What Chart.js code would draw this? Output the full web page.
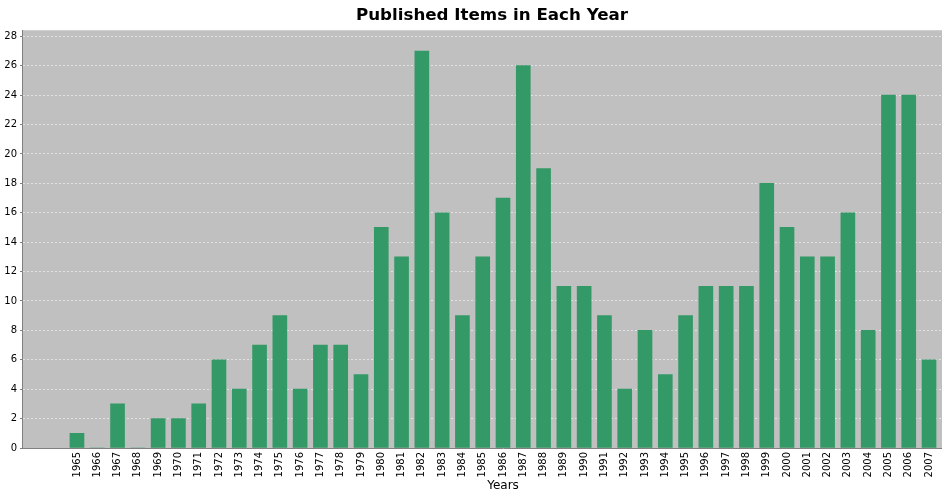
<!DOCTYPE html>
<html>
<head>
<meta charset="utf-8">
<script src="https://cdn.jsdelivr.net/npm/chart.js@4/dist/chart.umd.min.js"></script>
<style>
  html, body { margin: 0; padding: 0; background: #ffffff; overflow: hidden; width: 942px; height: 496px; }
  #wrap { width: 942px; height: 496px; overflow: hidden; }
  canvas { display: block; }
</style>
</head>
<body>
<div id="wrap"><canvas id="c" width="986" height="496"></canvas></div>
<script>
const years = [1965,1966,1967,1968,1969,1970,1971,1972,1973,1974,1975,1976,1977,1978,1979,1980,1981,1982,1983,1984,1985,1986,1987,1988,1989,1990,1991,1992,1993,1994,1995,1996,1997,1998,1999,2000,2001,2002,2003,2004,2005,2006,2007];
const items = [1,0,3,0,2,2,3,6,4,7,9,4,7,7,5,15,13,27,16,9,13,17,26,19,11,11,9,4,8,5,9,11,11,11,18,15,13,13,16,8,24,24,6];
const yTicks = [0,2,4,6,8,10,12,14,16,18,20,22,24,26,28];
const chartTitle = 'Published Items in Each Year';
const xTitle = 'Years';

const plotBg = {
  id: 'plotBg',
  beforeDraw(chart) {
    const a = chart.chartArea, ctx = chart.ctx;
    ctx.save();
    ctx.fillStyle = '#c0c0c0';
    ctx.fillRect(a.left, a.top, a.right - a.left, a.bottom - a.top);
    ctx.restore();
  }
};

new Chart(document.getElementById('c'), {
  type: 'bar',
  data: {
    datasets: [{
      label: 'Items',
      data: years.map((y, i) => ({ x: y, y: items[i] })),
      backgroundColor: '#339966',
      borderWidth: 0,
      barThickness: 14
    }]
  },
  options: {
    responsive: false,
    animation: false,
    layout: { padding: { left: 0, right: 2, top: 0, bottom: 0 } },
    plugins: {
      legend: { display: false },
      tooltip: { enabled: false },
      title: {
        display: true,
        text: chartTitle,
        color: '#000000',
        font: { family: 'DejaVu Sans', size: 16.7, weight: 'bold' },
        padding: { top: 6, bottom: 4.2 }
      }
    },
    scales: {
      x: {
        type: 'linear',
        min: 1965 - 2.71,
        max: 2007 + 2.71,
        offset: false,
        afterBuildTicks(scale) { scale.ticks = years.map(v => ({ value: v })); },
        afterFit(scale) { scale.height = 48; },
        grid: { display: true, drawOnChartArea: false, drawTicks: false, tickLength: 0 },
        border: { display: true, color: '#808080', width: 1 },
        ticks: {
          autoSkip: false,
          minRotation: 90,
          maxRotation: 90,
          padding: 4,
          color: '#000000',
          font: { family: 'DejaVu Sans', size: 10 },
          callback: (v) => String(v)
        },
        title: {
          display: true,
          text: xTitle,
          color: '#000000',
          font: { family: 'DejaVu Sans', size: 12 },
          padding: { top: 0, bottom: 3 }
        }
      },
      y: {
        type: 'linear',
        min: 0,
        max: 28.41,
        afterBuildTicks(scale) { scale.ticks = yTicks.map(v => ({ value: v })); },
        afterFit(scale) { scale.width = 22; },
        grid: {
          color: (ctx) => ctx.tick && ctx.tick.value === 0 ? 'rgba(0,0,0,0)' : '#e2e2e2',
          lineWidth: 1,
          tickLength: 2,
          tickColor: '#808080',
          drawTicks: true
        },
        border: { display: true, color: '#808080', width: 1, dash: [2, 2] },
        ticks: {
          padding: 3,
          color: '#000000',
          font: { family: 'DejaVu Sans', size: 10 }
        }
      }
    }
  },
  plugins: [plotBg]
});
</script>
</body>
</html>
